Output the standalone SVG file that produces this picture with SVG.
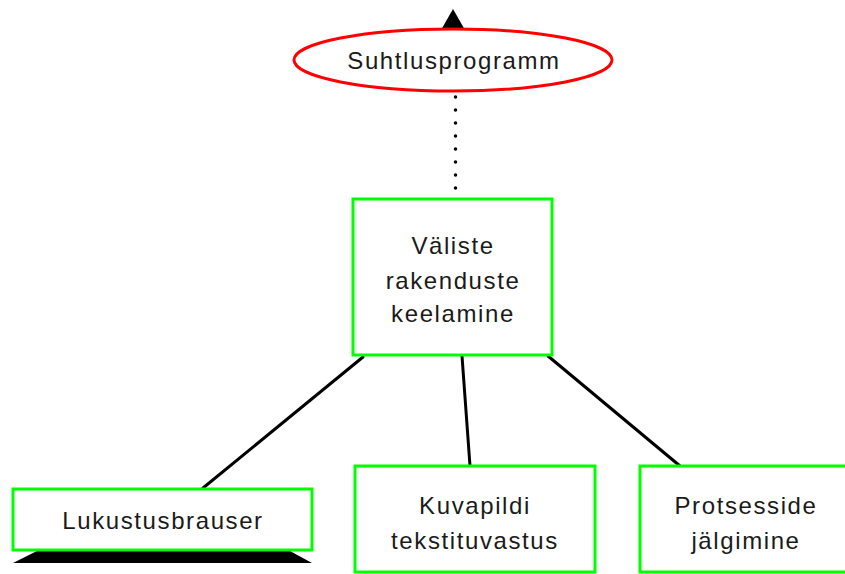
<svg xmlns="http://www.w3.org/2000/svg" width="845" height="574" viewBox="0 0 845 574">
  <style>
    .box { fill: #ffffff; stroke: #00ff00; stroke-width: 3; }
    .oval { fill: #ffffff; stroke: #ff0000; stroke-width: 3; }
    .lbl { font-family: "Liberation Sans", Arial, sans-serif; font-size: 24px; letter-spacing: 1.6px; fill: #1a1a1a; text-anchor: middle; }
    .link { stroke: #000000; stroke-width: 3; fill: none; stroke-linecap: round; }
    .dots { stroke: #000000; stroke-width: 3.5; fill: none; stroke-linecap: round; stroke-dasharray: 0 13; }
  </style>
  <rect width="845" height="574" fill="#ffffff"/>

  <g id="connectors">
    <line class="dots" x1="455.5" y1="97" x2="455.5" y2="190"/>
    <line class="link" x1="363" y1="357" x2="203" y2="488"/>
    <line class="link" x1="462" y1="356" x2="470" y2="466"/>
    <line class="link" x1="548" y1="356" x2="680" y2="466"/>
  </g>

  <g id="suhtlusprogramm">
    <polygon points="453,9 441,30 465,30" fill="#000000"/>
    <ellipse class="oval" cx="453" cy="60" rx="159" ry="31"/>
    <text class="lbl" x="454" y="69">Suhtlusprogramm</text>
  </g>

  <g id="valiste-rakenduste-keelamine">
    <rect class="box" x="353" y="199" width="199" height="156"/>
    <text class="lbl" x="453" y="254">Väliste</text>
    <text class="lbl" x="453" y="289">rakenduste</text>
    <text class="lbl" x="453" y="322">keelamine</text>
  </g>

  <g id="lukustusbrauser">
    <polygon points="37,551 290,551 312,563 13,563" fill="#000000"/>
    <rect class="box" x="13" y="489" width="299" height="61"/>
    <text class="lbl" x="163" y="529">Lukustusbrauser</text>
  </g>

  <g id="kuvapildi-tekstituvastus">
    <rect class="box" x="355" y="466" width="240" height="106"/>
    <text class="lbl" x="475" y="514">Kuvapildi</text>
    <text class="lbl" x="475" y="549">tekstituvastus</text>
  </g>

  <g id="protsesside-jalgimine">
    <rect class="box" x="640" y="466" width="212" height="106"/>
    <text class="lbl" x="746" y="514">Protsesside</text>
    <text class="lbl" x="746" y="549">jälgimine</text>
  </g>
</svg>
